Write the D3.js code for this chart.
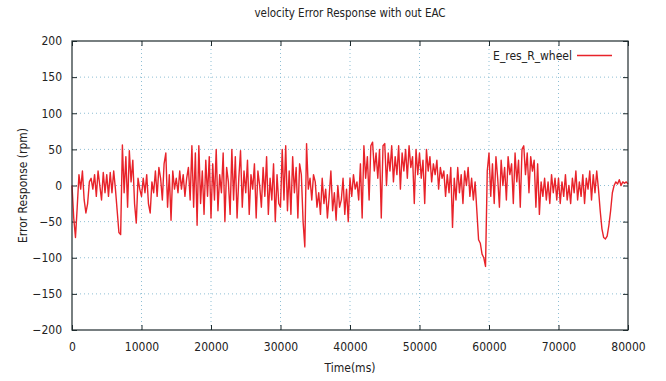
<!DOCTYPE html>
<html><head><meta charset="utf-8">
<script src="https://cdn.jsdelivr.net/npm/d3@7"></script>
<style>body{margin:0;background:#fff}svg{display:block}text{font-family:"DejaVu Sans Condensed","Liberation Sans",sans-serif;fill:#222}</style>
</head><body><svg id="c" width="666" height="381"></svg>
<script>
const title = "velocity Error Response with out EAC";
const xLabel = "Time(ms)";
const yLabel = "Error Response (rpm)";
const seriesName = "E_res_R_wheel";
const xTicks = [0,10000,20000,30000,40000,50000,60000,70000,80000];
const yTicks = [-200,-150,-100,-50,0,50,100,150,200];
const timeStep = 250; // ms between samples
const errRes = [
 0,-45,-72,-30,15,-5,20,-20,-38,-25,5,10,-5,15,-15,20,0,-20,18,-10,
 15,-15,18,-10,20,-5,-35,-65,-68,56,-10,40,-30,48,5,35,-25,-52,10,-5,
 -15,10,-10,15,-25,-38,5,-10,20,-15,25,10,-20,30,45,-30,15,-48,20,-5,
 10,-10,20,-5,15,-15,10,25,-20,55,-30,45,-55,55,-25,20,-40,35,-15,40,
 -45,30,-20,50,-35,15,-10,45,-50,25,5,-40,50,-20,40,-45,10,48,-30,20,
 -10,35,-40,15,-5,30,-45,20,0,-30,25,-15,40,-40,10,-20,30,-50,15,-25,
 -30,50,-20,55,-35,20,-40,40,-10,25,-45,30,15,-50,-85,58,-5,10,-20,15,
 5,-30,-10,-40,10,-25,-5,-45,-15,20,-35,-10,-48,0,-30,-20,10,-40,-5,-50,
 10,-15,15,-5,5,-20,30,-45,55,10,40,-20,55,60,20,45,10,50,-45,55,
 58,0,45,20,55,5,40,15,55,-5,45,20,50,10,55,25,40,-25,50,15,
 45,10,35,-25,50,20,40,5,30,15,35,-5,25,10,20,-15,15,-10,25,-58,
 10,-20,25,-10,15,-25,20,0,25,-15,10,-20,5,-35,-75,-80,-95,-100,-112,20,
 45,-15,30,-25,40,10,-30,35,0,25,-20,40,15,30,-25,45,5,35,-30,50,
 55,15,45,-10,40,20,35,-30,30,-40,5,-15,10,-20,5,-25,15,-10,10,-20,
 10,-25,5,-15,15,-20,0,-25,10,-10,20,-20,5,-15,15,-25,10,-5,20,-20,
 15,-10,20,-5,-35,-60,-72,-74,-70,-55,-35,-10,0,5,2,8,0,5,3,5,
 2
];

const svg = d3.select("#c");
const m = {l:72, r:628, t:41, b:330};
const x = d3.scaleLinear().domain([0,80000]).range([m.l,m.r]);
const y = d3.scaleLinear().domain([-200,200]).range([m.b,m.t]);

// grid
const g = svg.append("g");
g.selectAll(".gx").data(xTicks.slice(1,-1)).enter().append("line")
 .attr("x1",d=>x(d)).attr("x2",d=>x(d)).attr("y1",m.t).attr("y2",m.b)
 .attr("stroke","#8fbfd4").attr("stroke-width",1).attr("stroke-dasharray","1,3");
g.selectAll(".gy").data(yTicks.slice(1,-1)).enter().append("line")
 .attr("y1",d=>y(d)).attr("y2",d=>y(d)).attr("x1",m.l).attr("x2",m.r)
 .attr("stroke","#8fbfd4").attr("stroke-width",1).attr("stroke-dasharray","1,3");

// axes (inward ticks)
const axB = d3.axisBottom(x).tickValues(xTicks).tickSizeInner(-5).tickSizeOuter(0).tickPadding(12).tickFormat(d3.format("d"));
const axT = d3.axisTop(x).tickValues(xTicks).tickSizeInner(-5).tickSizeOuter(0).tickFormat("");
const axL = d3.axisLeft(y).tickValues(yTicks).tickSizeInner(-5).tickSizeOuter(0).tickPadding(10).tickFormat(d3.format("d"));
const axR = d3.axisRight(y).tickValues(yTicks).tickSizeInner(-5).tickSizeOuter(0).tickFormat("");
function styleAx(sel){
  sel.select(".domain").remove();
  sel.selectAll("line").attr("stroke","#1e2b2e").attr("stroke-width",1);
  sel.selectAll("text").attr("font-size",12).attr("fill","#222")
     .style("font-family",'"DejaVu Sans Condensed","Liberation Sans",sans-serif');
}
svg.append("g").attr("transform",`translate(0,${m.b})`).call(axB).call(styleAx);
svg.append("g").attr("transform",`translate(0,${m.t})`).call(axT).call(styleAx);
svg.append("g").attr("transform",`translate(${m.l},0)`).call(axL).call(styleAx);
svg.append("g").attr("transform",`translate(${m.r},0)`).call(axR).call(styleAx);

// data line
const data = errRes.map((v,i)=>({t:i*timeStep, v}));
const line = d3.line().x(d=>x(d.t)).y(d=>y(d.v));
svg.append("path").datum(data).attr("d",line).attr("fill","none")
 .attr("stroke","#e8232a").attr("stroke-width",1.4).attr("stroke-linejoin","round");

// frame
svg.append("rect").attr("x",m.l).attr("y",m.t).attr("width",m.r-m.l).attr("height",m.b-m.t)
 .attr("fill","none").attr("stroke","#1e2b2e").attr("stroke-width",1.2);

// titles
svg.append("text").attr("x",(m.l+m.r)/2).attr("y",17).attr("text-anchor","middle")
 .attr("font-size",11.5).text(title);
svg.append("text").attr("x",(m.l+m.r)/2).attr("y",372).attr("text-anchor","middle")
 .attr("font-size",12).text(xLabel);
svg.append("text").attr("transform",`translate(27,${(m.t+m.b)/2}) rotate(-90)`).attr("text-anchor","middle")
 .attr("font-size",12).text(yLabel);

// legend
svg.append("text").attr("x",572).attr("y",60).attr("text-anchor","end").attr("font-size",12).text(seriesName);
svg.append("line").attr("x1",577).attr("x2",612).attr("y1",55.5).attr("y2",55.5)
 .attr("stroke","#e8232a").attr("stroke-width",1.4);
</script></body></html>
